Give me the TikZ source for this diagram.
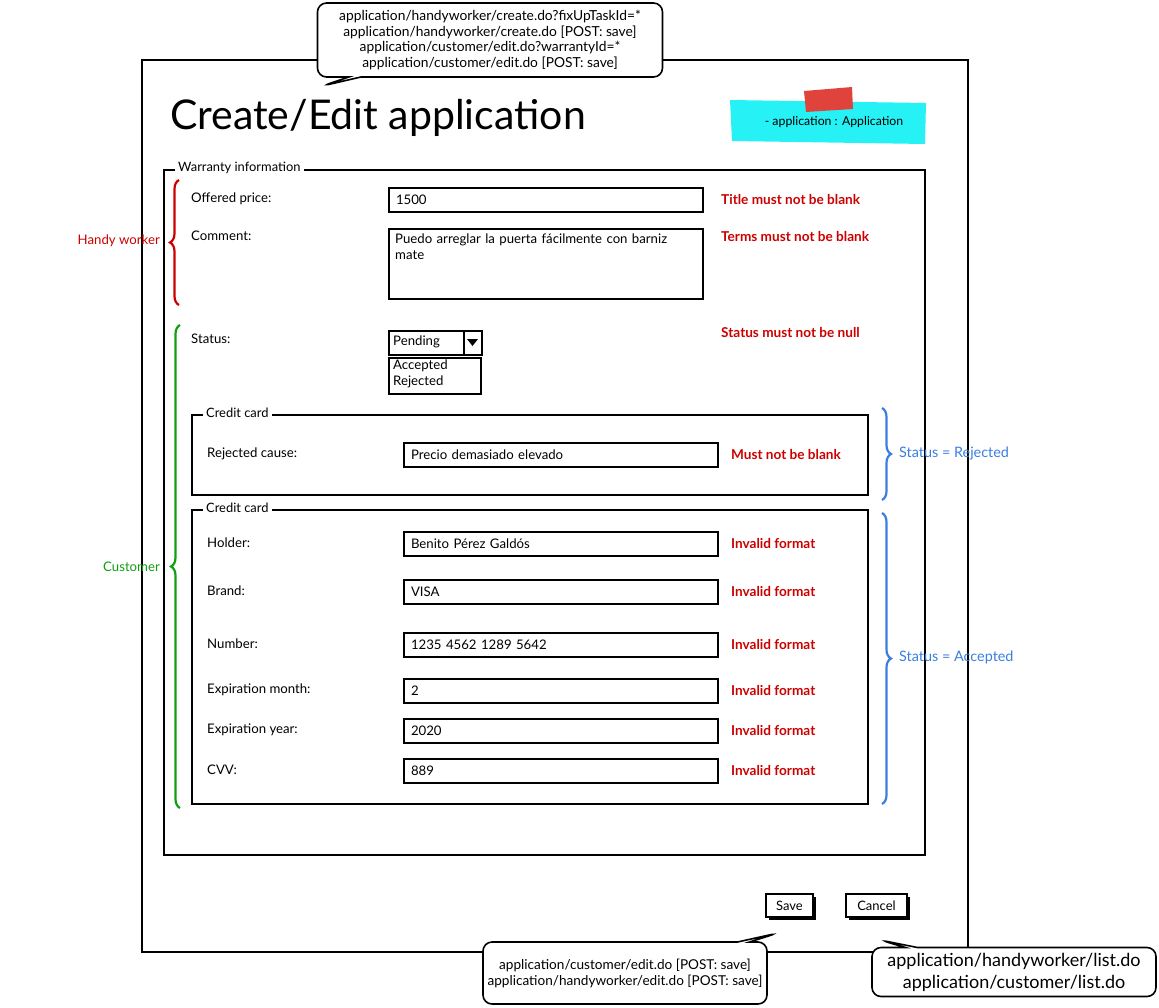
\documentclass[tikz,border=0pt]{standalone}
\usepackage{fontspec}
\setmainfont{Lato}
\usepackage{tikz}
\usetikzlibrary{shapes.callouts,decorations.pathreplacing,shadows,positioning}
\definecolor{errred}{HTML}{CC0000}
\definecolor{custgreen}{HTML}{119F11}
\definecolor{statblue}{HTML}{3A7EE0}
\definecolor{notecyan}{HTML}{26F2F5}
\definecolor{tapered}{HTML}{E0433B}

\begin{document}
\begin{tikzpicture}[x=1pt, y=-1pt,
    lbl/.style={anchor=west, inner sep=0pt, font=\fontsize{13.2}{16}\selectfont},
    field/.style={draw, line width=2pt, anchor=west, minimum height=24pt, text width=300pt,
        inner xsep=7pt, inner ysep=0pt, align=left, font=\fontsize{13.2}{16}\selectfont},
    err/.style={anchor=west, inner sep=0pt, text=errred, font=\fontsize{13.6}{16}\selectfont\bfseries},
    frame/.style={draw, line width=2pt},
    caption/.style={anchor=west, fill=white, inner xsep=3pt, inner ysep=1pt, font=\fontsize{12.9}{15}\selectfont},
    bubble/.style={rectangle callout, draw, fill=white, line width=1.6pt, rounded corners=9pt,
        callout pointer width=12pt, align=center, inner sep=0pt},
    button/.style={draw, line width=1.6pt, fill=white, minimum height=23pt, inner xsep=0pt,
        drop shadow={shadow xshift=3pt, shadow yshift=-3pt, fill=black, opacity=1},
        font=\fontsize{13}{15}\selectfont},
    curly/.style={decorate, decoration={brace, amplitude=9pt}, line width=2.2pt}
]
\useasboundingbox (0,0) rectangle (1159,1007);

% window
\draw[frame, line width=2.2pt] (142,60) rectangle (968,952);
\node[anchor=base west, inner sep=0pt, font=\fontsize{41}{44}\selectfont] (title) at (170,129) {Create/Edit application};

% sticky note
\fill[notecyan] (730,100) -- (926,103) -- (925,144) -- (732,141) -- cycle;
\fill[tapered] (804,91) -- (852,87) -- (853,109) -- (806,112) -- cycle;
\node[font=\fontsize{12.3}{14}\selectfont] (note) at (834,122) {- application : Application};

% warranty fieldset
\draw[frame] (164,170) rectangle (925,855);
\node[caption] (wcap) at (175,168) {Warranty information};

\node[lbl] (l1) at (191,199) {Offered price:};
\node[field] (f1) at (388,200) {1500};
\node[err] (e1) at (721,199) {Title must not be blank};

\node[lbl] (l2) at (191,236) {Comment:};
\node[field, anchor=north west, minimum height=70pt] (f2) at (388,228) {};
\node[lbl, anchor=north west, align=left, text width=300pt] (t2) at ([shift={(7,6)}]f2.north west)
    {Puedo arreglar la puerta fácilmente con barniz\\mate};
\node[err] (e2) at (721,236) {Terms must not be blank};

\node[lbl] (l3) at (191,339) {Status:};
\node[draw, line width=2pt, anchor=west, minimum width=93pt, minimum height=24pt] (f3) at (388,343) {};
\node[lbl] (t3) at (393,342) {Pending};
\draw[line width=1.6pt] (f3.north west) ++(76,0) coordinate (d3) -- (d3 |- f3.south);
\fill (467,339) -- (478,339) -- (472.5,346) -- cycle;
\node[draw, line width=2pt, anchor=north west, minimum width=92pt, minimum height=36pt] (o3) at (388,357) {};
\node[lbl] (a3) at (393,366) {Accepted};
\node[lbl] (r3) at (393,382) {Rejected};
\node[err] (e3) at (721,332) {Status must not be null};

% rejected
\draw[frame] (192,415) rectangle (868,495);
\node[caption] (ccap1) at (203,413) {Credit card};
\node[lbl] (l4) at (207,454) {Rejected cause:};
\node[field] (f4) at (403,455) {Precio demasiado elevado};
\node[err] (e4) at (731,454) {Must not be blank};

% accepted
\draw[frame] (192,510) rectangle (868,804);
\node[caption] (ccap2) at (203,508) {Credit card};
\node[lbl] (l5) at (207,543) {Holder:};
\node[field] (f5) at (403,544) {Benito Pérez Galdós};
\node[err] (e5) at (731,543) {Invalid format};
\node[lbl] (l6) at (207,591) {Brand:};
\node[field] (f6) at (403,592) {VISA};
\node[err] (e6) at (731,591) {Invalid format};
\node[lbl] (l7) at (207,644) {Number:};
\node[field] (f7) at (403,645) {1235 4562 1289 5642};
\node[err] (e7) at (731,644) {Invalid format};
\node[lbl] (l8) at (207,690) {Expiration month:};
\node[field] (f8) at (403,691) {2};
\node[err] (e8) at (731,690) {Invalid format};
\node[lbl] (l9) at (207,730) {Expiration year:};
\node[field] (f9) at (403,731) {2020};
\node[err] (e9) at (731,730) {Invalid format};
\node[lbl] (l10) at (207,770) {CVV:};
\node[field] (f10) at (403,771) {889};
\node[err] (e10) at (731,770) {Invalid format};

% braces
\draw[curly, errred] (179,305) -- (179,180);
\node[lbl, anchor=east, text=errred] (hw) at (160,241) {Handy worker};
\draw[curly, custgreen] (180,808) -- (180,325);
\node[lbl, anchor=east, text=custgreen] (cu) at (160,567) {Customer};
\draw[curly, statblue] (882,408) -- (882,500);
\node[lbl, text=statblue, font=\fontsize{14.4}{16}\selectfont] (sr) at (899,453) {Status = Rejected};
\draw[curly, statblue] (882,513) -- (882,804);
\node[lbl, text=statblue, font=\fontsize{14.4}{16}\selectfont] (sa) at (899,657) {Status = Accepted};

% buttons
\node[button, minimum width=47pt] (save) at (789.5,905.5) {Save};
\node[button, minimum width=61pt] (cancel) at (876.5,905.5) {Cancel};

% callouts
\node[bubble, minimum width=345pt, minimum height=74pt, callout absolute pointer={(322,86)},
    font=\fontsize{13.8}{15.5}\selectfont] (top) at (490,40)
    {application/handyworker/create.do?fixUpTaskId=*\\application/handyworker/create.do [POST: save]\\
     application/customer/edit.do?warrantyId=*\\application/customer/edit.do [POST: save]};
\node[bubble, minimum width=284pt, minimum height=62pt, callout absolute pointer={(778,933)},
    font=\fontsize{13.6}{16}\selectfont] (bsave) at (625,973)
    {application/customer/edit.do [POST: save]\\application/handyworker/edit.do [POST: save]};
\node[bubble, minimum width=284pt, minimum height=49pt, callout absolute pointer={(880,940)},
    font=\fontsize{18}{22}\selectfont] (bcancel) at (1014,972)
    {application/handyworker/list.do\\application/customer/list.do};

\end{tikzpicture}
\end{document}
